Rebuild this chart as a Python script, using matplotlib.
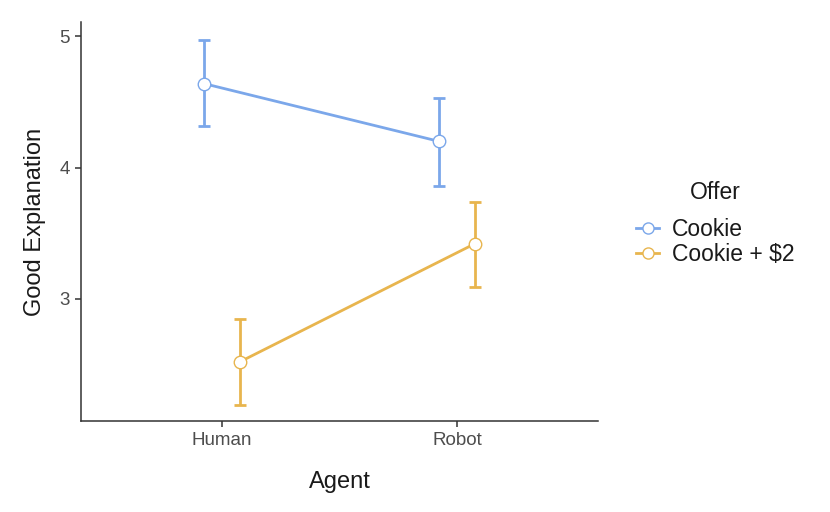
import numpy as np
import matplotlib
matplotlib.use("Agg")
import matplotlib.pyplot as plt

plt.rcParams['font.family'] = ['Liberation Sans', 'DejaVu Sans']

agents = ['Human', 'Robot']
offers = ['Cookie', 'Cookie + $2']
colors = ['#7ba7ea', '#e8b54e']

# means and error bar bounds
means = [[4.64, 4.20], [2.52, 3.42]]
lower = [[4.32, 3.86], [2.19, 3.09]]
upper = [[4.97, 4.53], [2.85, 3.74]]

dodge = [-0.075, 0.075]

fig = plt.figure(figsize=(8.3, 5.12), dpi=100)
ax = fig.add_axes([0.0976, 0.1777, 0.6229, 0.7793])

x = np.arange(1, len(agents) + 1)
for i, off in enumerate(offers):
    xs = x + dodge[i]
    m = np.array(means[i])
    lo = m - np.array(lower[i])
    hi = np.array(upper[i]) - m
    ax.errorbar(xs, m, yerr=[lo, hi], fmt='none', ecolor=colors[i],
                elinewidth=2, capsize=4.3, capthick=2, zorder=2)
    ax.plot(xs, m, color=colors[i], lw=2, marker='o', ms=9,
            mfc='white', mec=colors[i], mew=1, label=off, zorder=3)

ax.set_xlim(0.4, 2.6)
ax.set_ylim(2.07, 5.11)
ax.set_xticks(x)
ax.set_xticklabels(agents)
ax.set_yticks([3, 4, 5])
ax.tick_params(axis='both', labelsize=13.5, labelcolor='#4d4d4d',
               color='#333333', length=4, width=1.1, pad=4)
for s in ['top', 'right']:
    ax.spines[s].set_visible(False)
for s in ['left', 'bottom']:
    ax.spines[s].set_linewidth(1.1)
    ax.spines[s].set_color('#333333')

ax.set_xlabel('Agent', fontsize=17, labelpad=16, color='#1a1a1a')
ax.set_ylabel('Good Explanation', fontsize=17, labelpad=10, color='#1a1a1a')

leg = fig.legend(loc='center left', bbox_to_anchor=(0.742, 0.563),
                 title='Offer', fontsize=16.5, title_fontsize=16.5,
                 frameon=False, handlelength=1.0, handletextpad=0.55,
                 labelspacing=0.1)
leg._legend_box.sep = 10
for t in leg.get_texts():
    t.set_color('#1a1a1a')
leg.get_title().set_color('#1a1a1a')
for h in leg.legend_handles:
    h.set_markersize(8)

fig.savefig('out.png', dpi=100)
